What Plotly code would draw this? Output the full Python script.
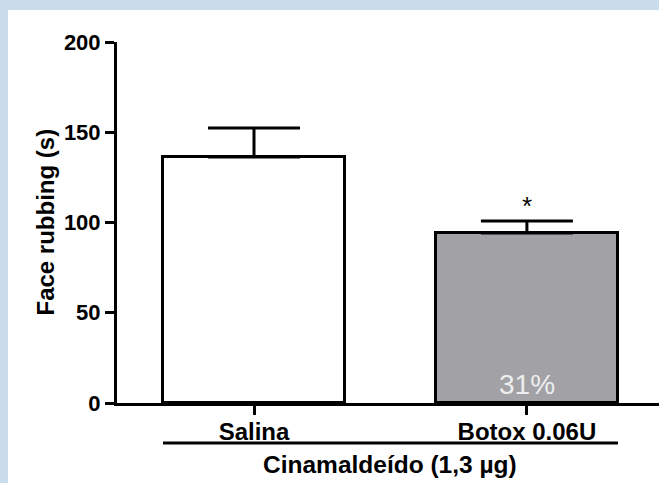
import plotly.graph_objects as go

categories = ["Salina", "Botox 0.06U"]
means = [136.3, 94.2]
sem = [16.1, 6.6]
bar_colors = ["#ffffff", "#a2a1a6"]
y_ticks = [0, 50, 100, 150, 200]
inside_label = "31%"
signif = "*"
group_label = "Cinamaldeído (1,3 µg)"
y_title = "Face rubbing (s)"

W, H = 659, 483
L, R, T, B = 117, 0, 42, 80
ph = H - T - B
pw = W - L - R
xpos = list(range(len(categories)))

FONT = "Liberation Sans, Arial, sans-serif"

fig = go.Figure()
fig.add_trace(go.Bar(
    x=xpos, y=means, width=0.667,
    marker=dict(color=bar_colors, line=dict(color="black", width=3)),
    error_y=dict(type="data", array=sem, arrayminus=[0] * len(sem), symmetric=False,
                 color="black", thickness=3, width=46),
    showlegend=False, hoverinfo="skip",
))

# white canvas over light blue frame
fig.add_shape(type="rect", xref="paper", yref="paper",
              x0=(8 - L) / pw, x1=1.1, y0=-0.4, y1=(H - B - 10) / ph,
              fillcolor="white", line=dict(width=0), layer="below")

# group line under categories
fig.add_shape(type="line", xref="x", yref="paper",
              x0=xpos[0] - 0.3335, x1=xpos[-1] + 0.3335,
              y0=(H - B - 443) / ph, y1=(H - B - 443) / ph,
              line=dict(color="black", width=3))

fig.add_annotation(x=(xpos[0] + xpos[-1]) / 2, xref="x", y=(H - B - 465) / ph, yref="paper",
                   text=group_label, showarrow=False,
                   font=dict(family=FONT, size=24.5, color="black", weight="bold"),
                   xanchor="center", yanchor="middle")

fig.add_annotation(x=(45 - L) / pw, xref="paper", y=0.5, yref="paper",
                   text=y_title, textangle=-90, showarrow=False,
                   font=dict(family=FONT, size=24, color="black", weight="bold"),
                   xanchor="center", yanchor="middle")

fig.add_annotation(x=xpos[1], y=means[1] + sem[1], text=signif, showarrow=False,
                   yanchor="bottom", yshift=-2,
                   font=dict(family=FONT, size=26, color="black"))

fig.add_annotation(x=xpos[1], y=0, text=inside_label, showarrow=False,
                   yanchor="bottom", yshift=1,
                   font=dict(family=FONT, size=28, color="#eeeeee"))

fig.update_layout(
    width=W, height=H,
    margin=dict(l=L, r=R, t=T, b=B, pad=0),
    paper_bgcolor="#cadcea", plot_bgcolor="rgba(0,0,0,0)",
    bargap=0,
    xaxis=dict(range=[-0.502, 1.484], tickvals=xpos, ticktext=categories,
               showgrid=False, zeroline=False, showline=True, linecolor="black", linewidth=3,
               ticks="outside", ticklen=9, tickwidth=3, tickcolor="black",
               ticklabelstandoff=-4,
               tickfont=dict(family=FONT, size=24, color="black", weight="bold")),
    yaxis=dict(range=[0, 200], tickvals=y_ticks, showgrid=False, zeroline=False,
               showline=True, linecolor="black", linewidth=3,
               ticks="outside", ticklen=9, tickwidth=3, tickcolor="black",
               tickfont=dict(family=FONT, size=22, color="black", weight="bold")),
)

fig.write_html("out.html", config={"displayModeBar": False},
               post_script="document.body.style.margin='0';document.body.style.overflow='hidden';")
